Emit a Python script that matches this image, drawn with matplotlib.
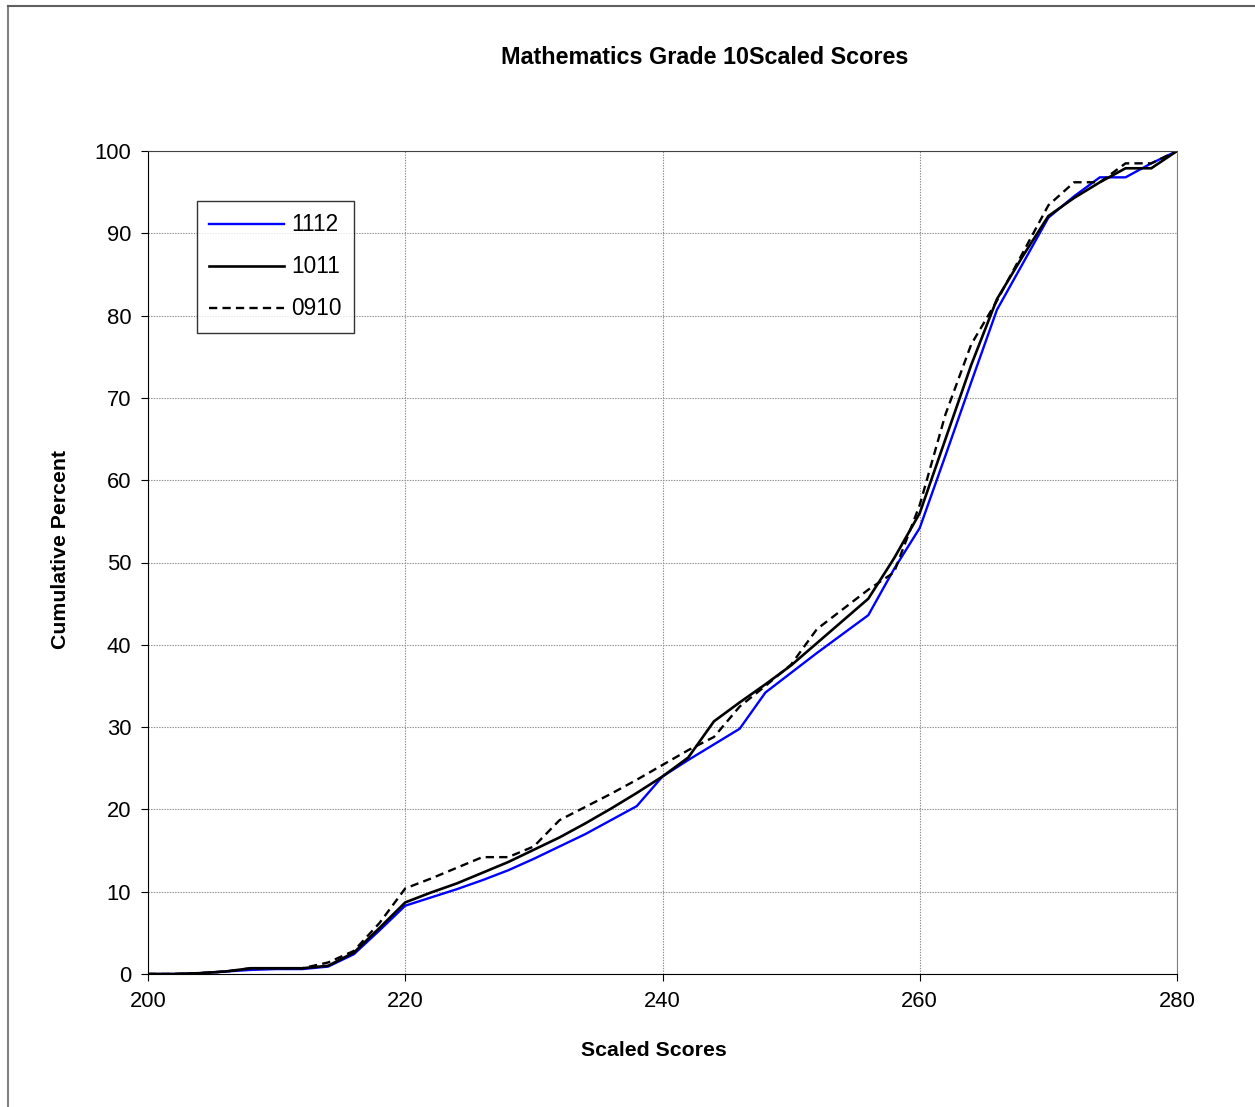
import matplotlib.pyplot as plt
from matplotlib.lines import Line2D

plt.rcParams['font.family'] = ['Liberation Sans', 'DejaVu Sans']

scores = list(range(200, 282, 2))

# cumulative percent by scaled score
pct_1112 = [0, 0, 0.1, 0.3, 0.5, 0.6, 0.6, 0.9, 2.4, 5.3,
            8.3, 9.3, 10.3, 11.4, 12.6, 14.0, 15.5, 17.0, 18.7, 20.4,
            24.0, 26.0, 27.9, 29.8, 34.2, 36.6, 39.0, 41.3, 43.6, 49.2,
            54.2, 63.0, 71.9, 80.7, 86.3, 91.9, 94.5, 96.8, 96.8, 98.5,
            100]
pct_1011 = [0, 0, 0.1, 0.3, 0.7, 0.7, 0.7, 1.0, 2.6, 5.6,
            8.7, 9.9, 11.0, 12.3, 13.6, 15.1, 16.6, 18.3, 20.1, 22.0,
            24.0, 26.3, 30.7, 33.0, 35.2, 37.5, 40.2, 42.9, 45.6, 50.5,
            56.0, 65.0, 74.0, 82.0, 87.2, 92.1, 94.3, 96.2, 97.9, 97.9,
            100]
pct_0910 = [0, 0, 0.1, 0.3, 0.7, 0.7, 0.7, 1.4, 2.8, 6.2,
            10.4, 11.6, 12.9, 14.2, 14.2, 15.5, 18.7, 20.3, 21.9, 23.6,
            25.4, 27.2, 28.8, 32.5, 35.0, 37.6, 41.9, 44.3, 46.7, 48.8,
            57.0, 68.0, 76.5, 81.8, 87.6, 93.4, 96.2, 96.2, 98.5, 98.5,
            100]

fig = plt.figure(figsize=(12.55, 11.07), dpi=100)
ax = fig.add_axes([148 / 1255, 1 - 974 / 1107, 1029 / 1255, 823 / 1107])

ax.plot(scores, pct_1112, color='#0000ff', lw=1.7, label='1112')
ax.plot(scores, pct_1011, color='black', lw=1.9, label='1011')
ax.plot(scores, pct_0910, color='black', lw=1.7, ls=(0, (3.5, 2.2)), label='0910')

ax.set_xlim(200, 280)
ax.set_ylim(0, 100)
ax.set_xticks(range(200, 281, 20))
ax.set_yticks(range(0, 101, 10))
ax.grid(True, color='#8c8c8c', ls=(0, (1.2, 1.2)), lw=0.8)
ax.tick_params(labelsize=15.8, direction='out', length=5, width=0.8, pad=7)
ax.spines['right'].set_color('#808080')
ax.spines['top'].set_color('#404040')

# axis titles placed where the original chart has them
ax.set_xlabel('Scaled Scores', fontsize=15.3, fontweight='bold', va='center')
ax.xaxis.set_label_coords((654 - 148) / 1029, -(1050 - 974) / 823)
ax.set_ylabel('Cumulative Percent', fontsize=15.3, fontweight='bold', va='center')
ax.yaxis.set_label_coords(-(148 - 60) / 1029, (974 - 549) / 823)
fig.text(705 / 1255, 1 - 57 / 1107, 'Mathematics Grade 10Scaled Scores',
         ha='center', va='center', fontsize=16.8, fontweight='bold')

leg = ax.legend(loc='upper left', bbox_to_anchor=((197 - 148) / 1029, (974 - 201) / 823),
                fontsize=16.3, frameon=True, fancybox=False, handlelength=3.3,
                handletextpad=0.3, borderpad=0.55, labelspacing=0.84, borderaxespad=0)
leg.get_frame().set_edgecolor('black')
leg.get_frame().set_linewidth(1.0)

# outer chart frame
fig.add_artist(Line2D([8 / 1255, 8 / 1255], [0, 1 - 6 / 1107], color='#808080', lw=1.5))
fig.add_artist(Line2D([8 / 1255, 1], [1 - 6 / 1107, 1 - 6 / 1107], color='#606060', lw=1.5))

fig.savefig('out.png', dpi=100, facecolor='white')
